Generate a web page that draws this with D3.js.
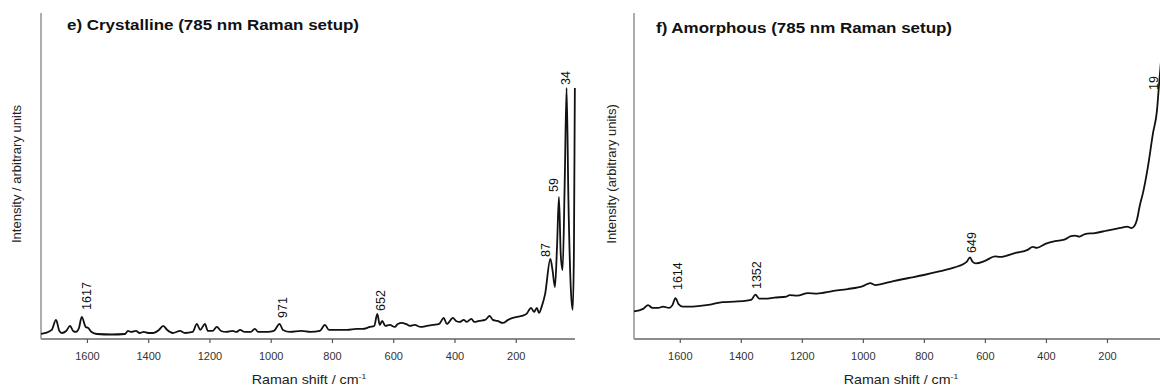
<!DOCTYPE html>
<html><head><meta charset="utf-8">
<script src="https://cdn.jsdelivr.net/npm/d3@7"></script>
<style>
body{margin:0;background:#fff}
svg{display:block;background:#fff}
text{font-family:"Liberation Sans",Arial,Helvetica,sans-serif}
</style>
</head><body>
<svg id="chart" width="1160" height="387"></svg>
<script>
// ---------- data ----------
const xTicks = [1600, 1400, 1200, 1000, 800, 600, 400, 200];

const crystTitle = "e) Crystalline (785 nm Raman setup)";
const amorphTitle = "f) Amorphous (785 nm Raman setup)";
const crystYLabel = "Intensity / arbitrary units";
const amorphYLabel = "Intensity (arbitrary units)";

// crystalline spectrum (Raman shift cm-1, intensity a.u.)
const crystShift = [1750,1735,1715,1701,1690,1682,1668,1655,1645,1636,1626,1617,1604,1596,1585,1567,1520,1476,1466,1455,1440,1428,1415,1400,1385,1365,1351,1338,1320,1296,1280,1255,1241,1230,1215,1205,1190,1176,1162,1145,1124,1112,1100,1085,1065,1052,1040,1010,990,971,960,937,900,870,840,823,810,780,750,720,700,676,662,652,644,636,626,611,595,585,572,559,545,530,510,490,470,450,435,425,405,395,383,370,360,345,335,320,300,285,275,260,242,225,210,197,180,165,150,140,131,124,115,104,87,80,72,65,59,53,47,40,34,28,20,14,10,7];
const crystIntensity = [2.0,2.4,3.6,7.6,3.2,2.4,3.2,5.2,3.2,2.8,4.4,8.8,4.8,4.4,2.8,2.0,1.8,2.0,3.2,2.8,3.2,2.4,2.8,2.4,2.4,3.6,5.2,3.6,2.4,3.2,2.4,2.8,6.0,3.6,6.0,3.2,3.2,4.8,3.2,2.8,3.2,2.8,3.6,2.8,2.8,4.0,2.8,2.8,3.2,6.0,3.6,2.8,3.2,2.8,3.2,5.6,3.6,3.6,3.6,4.0,4.0,4.8,5.2,10.0,5.6,7.2,5.2,5.6,4.8,6.0,6.4,6.0,5.2,5.6,4.8,5.2,5.6,6.0,8.4,6.0,8.4,7.2,6.8,7.6,6.8,8.0,6.8,7.2,7.6,9.2,7.6,7.2,6.4,7.6,8.4,8.8,9.2,10.0,12.4,10.8,12.4,10.4,13.0,18.0,31.9,27.5,20.7,37.5,56.6,33.5,27.5,63.3,100,55.4,19.5,11.6,35.5,100];

// amorphous spectrum
const amorphShift = [1750,1720,1704,1690,1670,1655,1635,1624,1614,1604,1590,1570,1540,1500,1460,1420,1380,1365,1352,1340,1320,1290,1250,1240,1215,1180,1150,1100,1050,1000,976,960,900,850,800,750,700,670,660,649,640,630,600,567,550,500,460,443,430,400,370,340,318,305,290,272,240,200,167,150,134,120,110,102,92,82,66,49,36,30,20];
const amorphIntensity = [11.0,12.0,13.5,12.4,12.4,12.9,12.4,13.5,16.3,13.9,12.9,12.9,13.1,13.7,14.7,14.9,15.3,15.7,17.7,16.1,16.1,16.5,16.9,17.5,17.3,18.3,18.1,19.1,19.9,21.1,22.3,21.5,23.1,24.3,25.5,26.9,28.5,29.9,30.7,32.5,30.7,30.1,31.1,32.9,32.7,34.3,35.5,36.7,36.3,38.0,39.0,39.6,41.0,41.2,40.8,41.8,42.2,43.2,44.0,44.4,44.8,44.2,45.0,47.4,53.4,58.2,68.5,82.1,91.2,100.4,115];

// peak annotations: label text, label position (shift), label base level (intensity)
const crystPeakText = ["1617", "971", "652", "87", "59", "34"];
const crystPeakX = [1603, 962, 640, 102, 76, 37];
const crystPeakLevel = [11.6, 8.4, 11.2, 32.7, 58.6, 101.2];

const amorphPeakText = ["1614", "1352", "649", "19"];
const amorphPeakX = [1609, 1348, 645, 48];
const amorphPeakLevel = [19.5, 19.9, 34.3, 99.2];

// ---------- drawing ----------
const svg = d3.select("#chart");

function panel(o) {
  const x = d3.scaleLinear().domain([1750, 0]).range([o.left, o.right]);
  const y = d3.scaleLinear().domain([0, 100]).range([339, 88]);
  const g = svg.append("g");

  // x axis
  const ax = g.append("g")
    .attr("transform", "translate(0,339)")
    .call(d3.axisBottom(x).tickValues(xTicks).tickSizeInner(4).tickSizeOuter(0).tickPadding(9).tickFormat(d3.format("d")));
  ax.select(".domain").attr("stroke", "#666").attr("stroke-width", 1.6)
    .attr("d", `M${o.left},0H${o.axisEnd}`);
  ax.selectAll(".tick line").attr("stroke", "#555").attr("stroke-width", 1.2);
  ax.selectAll(".tick text").attr("font-size", 11).attr("fill", "#333")
    .attr("font-family", "'Liberation Sans',Arial,sans-serif");

  // y axis line (no ticks)
  g.append("line").attr("x1", o.left).attr("x2", o.left).attr("y1", 13).attr("y2", 339)
    .attr("stroke", "#999").attr("stroke-width", 1.6);

  // spectrum
  const pts = o.shift.map((s, i) => [s, o.inten[i]]);
  g.append("path").datum(pts)
    .attr("fill", "none").attr("stroke", "#111").attr("stroke-width", 1.8)
    .attr("stroke-linejoin", "round")
    .attr("d", d3.line().x(d => x(d[0])).y(d => y(d[1])).curve(d3.curveMonotoneX));

  // peak labels
  o.peakText.forEach((t, i) => {
    g.append("text")
      .attr("transform", `translate(${x(o.peakX[i])},${y(o.peakLevel[i])}) rotate(-90)`)
      .attr("text-anchor", "start").attr("dy", "0.36em")
      .attr("font-size", 12.5).attr("fill", "#111").text(t);
  });

  // title
  g.append("text")
    .attr("transform", `translate(${o.titleX},${o.titleY}) scale(1.17,1)`)
    .attr("font-size", 14.5).attr("font-weight", "bold").attr("fill", "#111")
    .text(o.title);

  // x axis title
  const xt = g.append("text")
    .attr("transform", `translate(${(o.left + o.xTitleRef) / 2},384) scale(1.14,1)`)
    .attr("text-anchor", "middle").attr("font-size", 12.5).attr("fill", "#222");
  xt.append("tspan").text("Raman shift / cm");
  xt.append("tspan").attr("dy", -5).attr("font-size", 7.5).text("-1");

  // y axis title
  g.append("text")
    .attr("transform", `translate(${o.yTitleX},174) rotate(-90)`)
    .attr("text-anchor", "middle").attr("font-size", 13).attr("fill", "#222")
    .text(o.yLabel);
}

panel({left: 41, right: 577, axisEnd: 575, xTitleRef: 577, shift: crystShift, inten: crystIntensity,
  peakText: crystPeakText, peakX: crystPeakX, peakLevel: crystPeakLevel,
  title: crystTitle, titleX: 67, titleY: 30, yLabel: crystYLabel, yTitleX: 21});

panel({left: 634, right: 1168, axisEnd: 1160, xTitleRef: 1168, shift: amorphShift, inten: amorphIntensity,
  peakText: amorphPeakText, peakX: amorphPeakX, peakLevel: amorphPeakLevel,
  title: amorphTitle, titleX: 656, titleY: 33, yLabel: amorphYLabel, yTitleX: 616});
</script>
</body></html>
